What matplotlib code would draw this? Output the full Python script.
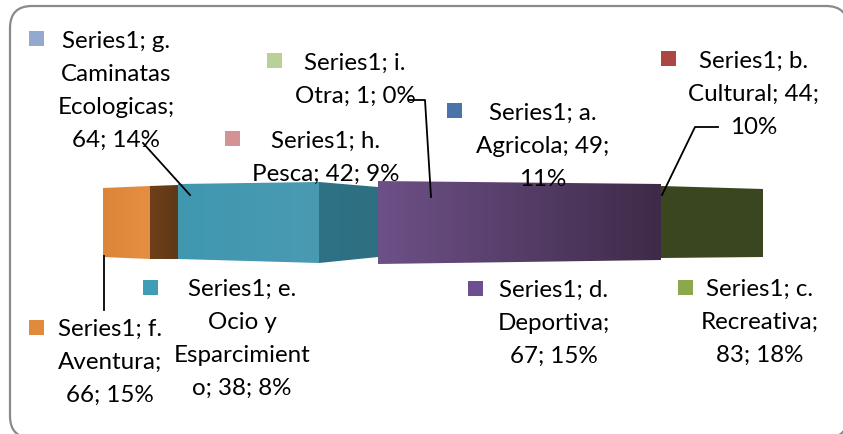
"""
Squashed 3D pie chart with Series1 data labels, redrawn in pixel coordinates.
"""
import numpy as np
import matplotlib
matplotlib.use("Agg")
import matplotlib.pyplot as plt
from matplotlib.colors import LinearSegmentedColormap
from matplotlib.patches import FancyBboxPatch, Polygon, Rectangle

plt.rcParams["font.family"] = ["Lato", "DejaVu Sans"]

# Data labels
categories = ["a", "b", "c", "d", "e", "f", "g", "h", "i"]
label_values = [49, 44, 83, 67, 38, 66, 64, 42, 1]
label_percents = [11, 10, 18, 15, 8, 15, 14, 9, 0]
label_templates = [
    "Series1; a.\nAgricola; {v};\n{p}%",
    "Series1; b.\nCultural; {v};\n{p}%",
    "Series1; c.\nRecreativa;\n{v}; {p}%",
    "Series1; d.\nDeportiva;\n{v}; {p}%",
    "Series1; e.\nOcio y\nEsparcimient\no; {v}; {p}%",
    "Series1; f.\nAventura;\n{v}; {p}%",
    "Series1; g.\nCaminatas\nEcologicas;\n{v}; {p}%",
    "Series1; h.\nPesca; {v}; {p}%",
    "Series1; i.\nOtra; {v}; {p}%",
]
marker_colors = ["#4a74a8", "#ab4642", "#8aa84c", "#6b4f8e", "#3f9db5",
                 "#e08a3c", "#94a9d0", "#d49393", "#b9d097"]

# Where each label sits: text centre x, first baseline y, marker left, marker top
label_x = [543, 754, 760, 554, 242, 110, 116, 326, 355]
label_y = [120, 68, 296, 297, 296, 336, 48, 148, 70]
marker_x = [447, 661, 678, 468, 143, 29, 29, 225, 267]
marker_y = [103, 51, 280, 281, 280, 320, 31, 131, 53]

# Visible bands of the pie wall, left to right
band_widths = [47, 28, 141, 59, 283, 102]
band_top_left = [188, 186, 184, 182, 181, 186]
band_top_right = [186, 185, 182, 187, 184, 189]
band_bottom_left = [257, 259, 259, 263, 264, 258]
band_bottom_right = [259, 259, 263, 257, 260, 257]
band_left_colors = ["#db8538", "#6e4019", "#3f98b0", "#2f7185", "#6d5088", "#39461f"]
band_right_colors = ["#e48f42", "#5f3817", "#4a9ab2", "#2e6f82", "#3f2b48", "#3a4720"]

LINE_STEP = 32.8
FONT_SIZE = 17.4

fig = plt.figure(figsize=(8.43, 4.34), dpi=100)
ax = fig.add_axes([0, 0, 1, 1])
ax.set_xlim(0, 843)
ax.set_ylim(434, 0)
ax.axis("off")

# Rounded chart frame, running off the right and bottom of the picture
frame = FancyBboxPatch((10, 6), 838, 432, boxstyle="round,pad=0,rounding_size=22",
                       facecolor="white", edgecolor="#8a8a8a", linewidth=1.6)
ax.add_patch(frame)

# Pie wall: gradient image clipped to each band
left = 103.0
for i, width in enumerate(band_widths):
    right = left + width
    poly = Polygon([(left, band_top_left[i]), (right, band_top_right[i]),
                    (right, band_bottom_right[i]), (left, band_bottom_left[i])],
                   closed=True, facecolor="none", edgecolor="none", transform=ax.transData)
    ax.add_patch(poly)
    cmap = LinearSegmentedColormap.from_list("band", [band_left_colors[i], band_right_colors[i]])
    img = ax.imshow(np.linspace(0, 1, 64).reshape(1, -1), cmap=cmap, aspect="auto",
                    extent=(left, right, 270, 175), zorder=2)
    img.set_clip_path(poly)
    left = right
ax.set_xlim(0, 843)
ax.set_ylim(434, 0)

# Leader lines
ax.plot([143, 190], [143, 195], color="black", lw=1.3, zorder=3)
ax.plot([409, 425, 431], [100, 100, 197], color="black", lw=1.3, zorder=3)
ax.plot([718, 695, 662], [127, 127, 195], color="black", lw=1.3, zorder=3)
ax.plot([104, 104], [256, 310], color="black", lw=1.3, zorder=3)

# Data labels with their colour keys
for i, template in enumerate(label_templates):
    text = template.format(v=label_values[i], p=label_percents[i])
    for j, line in enumerate(text.split("\n")):
        ax.text(label_x[i], label_y[i] + j * LINE_STEP, line, ha="center", va="baseline",
                fontsize=FONT_SIZE, color="black", zorder=4)
    ax.add_patch(Rectangle((marker_x[i], marker_y[i]), 15, 15,
                           facecolor=marker_colors[i], edgecolor="none", zorder=4))

fig.savefig("out.png", dpi=100, facecolor="white")
plt.close(fig)
